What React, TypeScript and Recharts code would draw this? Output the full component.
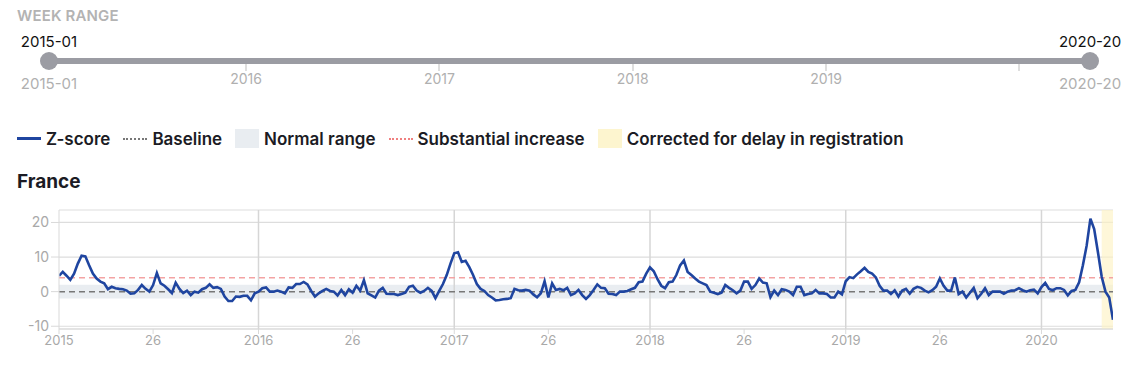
import React from 'react';
import {
  LineChart,
  Line,
  XAxis,
  YAxis,
  CartesianGrid,
  ReferenceLine,
  ReferenceArea,
} from 'recharts';

// Z-score per ISO week, France, 2015-01 .. 2020-20
const zScores2015 = [
  4.6, 5.7, 4.6, 3.4, 5.2, 8.1, 10.4, 10.2, 7.6, 5.2, 3.8, 2.9, 2.4, 0.7, 1.4, 1.0, 0.8, 0.7, 0.3, -0.6,
  -0.5, 0.5, 1.9, 0.8, 0, 1.9, 5.4, 2.4, 1.7, 0.7, -0.4, 2.6, 0.8, -0.4, 0.3, -1.0, 0, -0.3, 0.7, 1.1,
  2.1, 1.1, 1.3, 0.8, -1.4, -2.7, -2.7, -1.4, -1.5, -1.2, -1.2, -2.5, -0.5,
];
const zScores2016 = [
  0, 1.0, 1.2, 0, 0, 0.3, 0, -0.5, 1.2, 1.1, 2.2, 2.2, 2.8, 2.1, 0.2, -1.4, -0.5, 0.2, 0.8, 0.2,
  0, -1.1, 0.5, -1.0, 0.7, -0.3, 1.7, 0.3, 3.3, -0.5, -1.1, -1.7, 0.3, 1.1, -0.6, -0.7, -0.7, -1.0, -0.7, -0.3,
  1.4, 1.7, 0.3, -0.3, 0.2, 1.1, 0.2, -1.9, 0.2, 2.2, 4.8, 8.1,
];
const zScores2017 = [
  11.1, 11.4, 8.6, 8.9, 7.1, 4.8, 2.2, 0.8, 0.2, -1.0, -1.7, -2.5, -2.4, -2.2, -2.1, -1.9, 0.8, 0.4, 0.3, 0.5,
  0.3, -0.8, -1.6, -0.5, 3.0, -1.7, 2.4, 0.5, 0.8, 0.4, 1.1, -1.0, -0.5, 0.5, -1.0, -2.1, -1.0, 0.5, 2.1, 1.1,
  1.0, -0.6, -0.7, -1.0, 0, 0, 0.2, 0.7, 1.1, 2.7, 2.9, 5.2,
];
const zScores2018 = [
  7.0, 5.9, 3.6, 1.7, 1.0, 2.7, 2.9, 4.8, 7.6, 9.0, 5.7, 4.8, 3.8, 2.9, 2.4, 1.9, 0, -0.3, -0.7, -0.3,
  1.9, 1.1, 0.4, -0.5, 0.3, 2.9, 2.9, 0.8, 1.9, 3.8, 2.6, 2.4, -1.6, 0.3, -1.0, 0.7, 0.5, 0, -1.0, 1.4,
  1.4, -1.0, -0.7, -0.5, 0.5, -0.5, -0.5, -0.7, -1.7, -1.7, 0, -0.8,
];
const zScores2019 = [
  3.0, 4.2, 3.9, 5.0, 5.9, 6.9, 5.7, 5.2, 4.1, 1.7, 0.3, 0.3, -0.7, 0.4, -1.4, 0.3, 0.8, -0.6, 0.8, 1.4,
  1.1, 0.3, -0.2, 0.4, 1.4, 3.8, 1.7, 0.3, 0.3, 4.1, -0.7, 0, -1.7, -0.3, 1.1, -1.9, -0.6, 1.0, -1.0, 0,
  0, 0, -0.6, 0, 0.3, 0.4, 1.0, 0.4, 0, 0.4, 0.6, -0.5,
];
const zScores2020 = [
  1.3, 2.5, 0.8, 0.4, 1.0, 1.0, 0.5, -1.1, 0.2, 0.5, 2.7, 7.6, 13.3, 21.1, 18.1, 11.4, 4.3, 0, -1.7, -8.1,
];

const weeksPerYear = [53, 52, 52, 52, 52, 20];

// x-axis ticks (week index) and labels
const xTickIndex = [0, 25, 53, 78, 105, 130, 157, 182, 209, 234, 261];
const xTickLabels = ['2015', '26', '2016', '26', '2017', '26', '2018', '26', '2019', '26', '2020'];
const yearStartIndex = [53, 105, 157, 209, 261];
const yTicks = [-10, 0, 10, 20];

const baselineValue = 0;
const normalRange = [-2, 2];
const substantialIncrease = 4;
const correctedRange = [277, 280];

// slider
const sliderYearLabels = ['2016', '2017', '2018', '2019'];
const sliderStart = '2015-01';
const sliderEnd = '2020-20';

const allScores = [
  ...zScores2015,
  ...zScores2016,
  ...zScores2017,
  ...zScores2018,
  ...zScores2019,
  ...zScores2020,
];
const data = allScores.map((z, i) => ({ idx: i, z }));
const lastIdx = allScores.length - 1;

const FONT = 'Inter, "Noto Sans", sans-serif';
const tickLabelFor = (v: number) => {
  const i = xTickIndex.indexOf(v);
  return i >= 0 ? xTickLabels[i] : '';
};

// slider geometry
const SL_X0 = 49;
const SL_X1 = 1090;
const SL_Y = 61;
const sliderX = (weekIdx: number) => SL_X0 + ((SL_X1 - SL_X0) * weekIdx) / lastIdx;

function Slider() {
  let acc = 0;
  const yearIdx: number[] = [];
  for (let i = 0; i < weeksPerYear.length - 1; i++) {
    acc += weeksPerYear[i];
    yearIdx.push(acc);
  }
  return (
    <>
      <div
        style={{
          position: 'absolute',
          left: 17,
          top: 6,
          fontSize: 15,
          fontWeight: 600,
          color: '#b3b3b3',
          letterSpacing: 0.15,
        }}
      >
        WEEK RANGE
      </div>
      <div style={{ position: 'absolute', left: SL_X0 - 60, width: 120, top: 32, textAlign: 'center', fontSize: 15, color: '#111' }}>
        {sliderStart}
      </div>
      <div style={{ position: 'absolute', left: SL_X1 - 60, width: 120, top: 32, textAlign: 'center', fontSize: 15, color: '#111' }}>
        {sliderEnd}
      </div>
      {yearIdx.map((wi, i) => (
        <div
          key={'t' + i}
          style={{ position: 'absolute', left: sliderX(wi) - 1, top: 63, width: 2, height: 8, background: '#dedede' }}
        />
      ))}
      {yearIdx.slice(0, 4).map((wi, i) => (
        <div
          key={'l' + i}
          style={{ position: 'absolute', left: sliderX(wi) - 40, width: 80, top: 70, textAlign: 'center', fontSize: 14, color: '#b0b0b0' }}
        >
          {sliderYearLabels[i]}
        </div>
      ))}
      <div style={{ position: 'absolute', left: SL_X0, top: SL_Y - 3, width: SL_X1 - SL_X0, height: 6, background: '#9b9ca3' }} />
      <div style={{ position: 'absolute', left: SL_X0 - 9, top: SL_Y - 9, width: 18, height: 18, borderRadius: 9, background: '#9b9ca3' }} />
      <div style={{ position: 'absolute', left: SL_X1 - 9, top: SL_Y - 9, width: 18, height: 18, borderRadius: 9, background: '#9b9ca3' }} />
      <div style={{ position: 'absolute', left: SL_X0 - 60, width: 120, top: 74, textAlign: 'center', fontSize: 15, color: '#b0b0b0' }}>
        {sliderStart}
      </div>
      <div style={{ position: 'absolute', left: SL_X1 - 60, width: 120, top: 74, textAlign: 'center', fontSize: 15, color: '#b0b0b0' }}>
        {sliderEnd}
      </div>
    </>
  );
}

function LegendItem({ symbol, label }: { symbol: React.ReactNode; label: string }) {
  return (
    <div style={{ display: 'flex', alignItems: 'center', marginRight: 13 }}>
      {symbol}
      <span style={{ marginLeft: 5 }}>{label}</span>
    </div>
  );
}

function Legend() {
  return (
    <div
      style={{
        position: 'absolute',
        left: 17,
        top: 127,
        height: 23,
        display: 'flex',
        alignItems: 'center',
        fontSize: 17,
        fontWeight: 600,
        color: '#1b1b24',
        whiteSpace: 'nowrap',
      }}
    >
      <LegendItem symbol={<div style={{ width: 24, height: 3, background: '#1f45a0' }} />} label="Z-score" />
      <LegendItem symbol={<div style={{ width: 24, height: 0, borderTop: '2px dotted #777' }} />} label="Baseline" />
      <LegendItem symbol={<div style={{ width: 24, height: 19, background: '#e9edf1' }} />} label="Normal range" />
      <LegendItem symbol={<div style={{ width: 24, height: 0, borderTop: '2px dotted #f08080' }} />} label="Substantial increase" />
      <LegendItem symbol={<div style={{ width: 24, height: 19, background: '#fdf5cf' }} />} label="Corrected for delay in registration" />
    </div>
  );
}

export default function App() {
  return (
    <div
      style={{
        position: 'absolute',
        left: 0,
        top: 0,
        width: 1137,
        height: 370,
        background: '#fff',
        fontFamily: FONT,
        overflow: 'hidden',
      }}
    >
      <Slider />
      <Legend />
      <div style={{ position: 'absolute', left: 17, top: 170, fontSize: 19, fontWeight: 700, color: '#1b1b24' }}>France</div>
      <div style={{ position: 'absolute', left: 0, top: 200 }}>
        <LineChart width={1137} height={170} data={data} margin={{ top: 10, right: 24, bottom: 11, left: 9 }}>
          <ReferenceArea y1={normalRange[0]} y2={normalRange[1]} fill="#e9edf1" fillOpacity={1} stroke="none" ifOverflow="hidden" />
          <CartesianGrid vertical={false} stroke="#dddddd" strokeWidth={1.2} />
          {yearStartIndex.map((x) => (
            <ReferenceLine key={x} x={x} stroke="#d6d6d6" strokeWidth={1.5} />
          ))}
          <ReferenceLine y={baselineValue} stroke="#777777" strokeWidth={1.5} strokeDasharray="6 4" />
          <ReferenceLine y={substantialIncrease} stroke="#f4a3a3" strokeWidth={1.5} strokeDasharray="6 4" />
          <XAxis
            dataKey="idx"
            type="number"
            domain={[0, lastIdx]}
            ticks={xTickIndex}
            interval={0}
            tickFormatter={tickLabelFor}
            stroke="#d9d9d9"
            tickSize={5}
            tickMargin={2}
            height={30}
            tick={{ fill: '#a9a9a9', fontSize: 13, fontFamily: FONT }}
            allowDataOverflow
          />
          <YAxis
            type="number"
            domain={[-10.8, 23.6]}
            ticks={yTicks}
            interval={0}
            allowDataOverflow
            width={50}
            stroke="#d9d9d9"
            tickSize={8}
            tickMargin={2}
            tick={{ fill: '#a9a9a9', fontSize: 14, fontFamily: FONT }}
          />
          <Line
            type="linear"
            dataKey="z"
            stroke="#1f45a0"
            strokeWidth={2.6}
            dot={false}
            activeDot={false}
            isAnimationActive={false}
          />
          <ReferenceArea
            x1={correctedRange[0]}
            x2={correctedRange[1]}
            fill="#fdf3c4"
            fillOpacity={0.65}
            stroke="none"
          />
        </LineChart>
      </div>
    </div>
  );
}
